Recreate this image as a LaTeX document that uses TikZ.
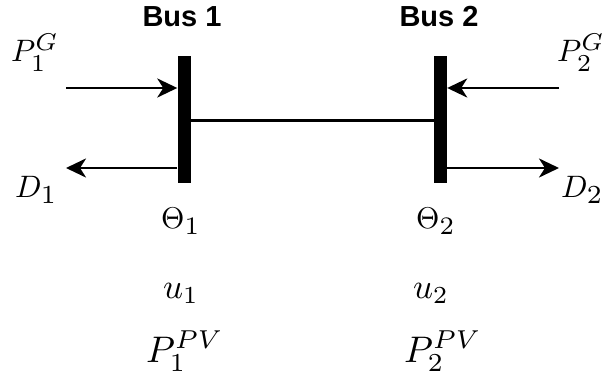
\documentclass[tikz,border=0pt]{standalone}
\usepackage{graphicx}
\usepackage{fontspec}
\newfontfamily\busfont{Liberation Sans}
\usetikzlibrary{arrows.meta}
\newcommand\mlab[2][2.6]{\scalebox{#1}{$#2$}}
\newcommand\sbig[2][1.2]{\scalebox{#1}{$\scriptstyle #2$}}
\begin{document}
\begin{tikzpicture}[x=1pt,y=-1pt,
  busbar/.style={fill=black,draw=none,minimum width=13pt,minimum height=127pt,inner sep=0pt},
  flow/.style={line width=2.8pt,-{Stealth[length=20pt,width=19pt,inset=6pt]}},
  tie/.style={line width=3pt},
  mlabel/.style={inner sep=0pt,anchor=base west},
  buslabel/.style={inner sep=0pt,anchor=base,font=\busfont\bfseries\fontsize{29}{32}\selectfont}]
\useasboundingbox (0,0) rectangle (608,377);
\node[busbar] (b1) at (184,119.5) {};
\node[busbar] (b2) at (440.5,119.5) {};
\node[buslabel] (t1) at (182,27) {Bus 1};
\node[buslabel] (t2) at (439,27) {Bus 2};
\draw[tie] (b1.east |- 0,120.5) -- (b2.west |- 0,120.5);
\coordinate (g1) at (66,88);
\coordinate (d1) at (66,168);
\coordinate (g2) at (559,88);
\coordinate (d2) at (559,168);
\draw[flow] (g1) -- (g1 -| b1.west);
\draw[flow] (d1 -| b1.west) -- (d1);
\draw[flow] (g2) -- (g2 -| b2.east);
\draw[flow] (d2 -| b2.east) -- (d2);
\node[mlabel] (pg1) at (11,62) {\mlab[3.1]{P_{\sbig[1.12]{1}}^{\sbig[1.12]{G}}}};
\node[mlabel] (pg2) at (557,62) {\mlab[3.1]{P_{\sbig[1.12]{2}}^{\sbig[1.12]{G}}}};
\node[mlabel] (dd1) at (15,197) {\mlab[3.1]{D_{\sbig{1}}}};
\node[mlabel] (dd2) at (561,197) {\mlab[3.1]{D_{\sbig{2}}}};
\node[mlabel] (th1) at (161,229) {\mlab[3.0]{\Theta_{\sbig{1}}}};
\node[mlabel] (th2) at (416,229) {\mlab[3.0]{\Theta_{\sbig{2}}}};
\node[mlabel] (u1) at (163,298) {\mlab[3.5]{u_1}};
\node[mlabel] (u2) at (413,298) {\mlab[3.5]{u_2}};
\node[mlabel] (pv1) at (146,362) {\mlab[3.7]{P_1^{PV}}};
\node[mlabel] (pv2) at (404,362) {\mlab[3.7]{P_2^{PV}}};
\end{tikzpicture}
\end{document}
